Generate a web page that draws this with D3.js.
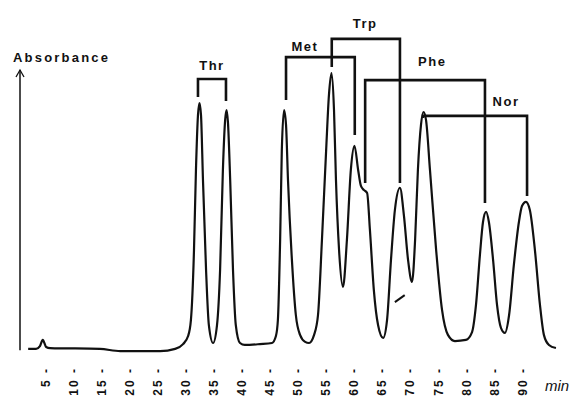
<!DOCTYPE html>
<html>
<head>
<meta charset="utf-8">
<script src="https://cdn.jsdelivr.net/npm/d3@7"></script>
<style>
  body { margin: 0; background: #fff; }
  svg { display: block; }
</style>
</head>
<body>
<div id="chart"></div>
<script>
// Chromatogram trace
// time in minutes, absorbance in arbitrary units (0 = baseline)
var times = [2.0, 3.4, 4.1, 4.6, 5.2, 5.9, 14.8, 18.4, 25.5, 28.2,
  29.6, 30.5, 31.0, 31.55, 31.9, 32.26, 32.53, 32.8, 33.15, 33.7,
  34.2, 34.95, 35.65, 36.2, 36.7, 37.1, 37.35, 37.6, 38.0, 38.5,
  39.0, 39.75, 40.6, 43.3, 45.45, 46.15, 46.5, 46.9, 47.2, 47.6,
  47.95, 48.3, 49.0, 49.7, 50.45, 51.35, 52.05, 52.95, 53.65, 54.35,
  55.1, 55.6, 56.05, 56.5, 56.85, 57.4, 58.1, 58.8, 59.5, 60.15,
  60.8, 61.3, 61.85, 62.4, 62.9, 63.6, 64.35, 65.25, 65.95, 66.65,
  67.35, 68.25, 68.95, 69.7, 70.4, 70.95, 71.45, 72.0, 72.45, 72.9,
  73.6, 74.7, 75.75, 76.8, 78.05, 80.0, 81.1, 81.8, 82.5, 83.05,
  83.6, 84.1, 84.85, 85.55, 86.25, 86.95, 87.7, 88.55, 89.45, 90.0,
  90.7, 91.4, 92.3, 93.2, 93.9, 94.8, 96.05];

var absorbance = [0.4, 0.4, 1.4, 3.6, 1.1, 0.7, 0.4, -0.4, -0.4, 0.4,
  2.1, 5.0, 10.7, 35.7, 64.3, 83.9, 88.2, 83.9, 60.7, 28.6,
  8.9, 2.5, 8.9, 28.6, 64.3, 82.1, 85.7, 81.4, 60.7, 28.6,
  8.9, 2.5, 1.8, 2.1, 2.5, 5.0, 10.7, 39.3, 71.4, 85.7,
  80.4, 60.7, 32.1, 12.5, 5.4, 2.9, 2.5, 5.4, 12.5, 39.3,
  71.4, 91.1, 98.9, 85.7, 60.7, 35.7, 22.5, 39.3, 64.3, 72.9,
  64.3, 58.6, 57.1, 56.1, 42.9, 21.4, 8.9, 4.3, 10.7, 32.1,
  50.0, 57.9, 48.2, 32.1, 24.3, 39.3, 64.3, 80.4, 85.0, 82.1,
  64.3, 35.7, 14.3, 5.4, 3.2, 3.6, 6.4, 16.1, 33.9, 45.7,
  49.3, 45.7, 32.1, 16.1, 7.9, 6.1, 12.5, 30.4, 45.7, 51.4,
  52.9, 50.0, 35.7, 16.1, 5.4, 1.8, 0.7];

// peak pair brackets: name, the two peak times, height of the bar,
// and where each leg stops above its peak
var bracketNames = ["Thr", "Met", "Trp", "Phe", "Nor"];
var bracketStart = [32.26, 47.95, 56.1, 62.05, 72.35];
var bracketEnd = [37.25, 60.2, 68.25, 83.4, 90.9];
var bracketTop = [96.8, 104.6, 111.1, 96.4, 83.6];
var legStartEnd = [90.4, 89.3, 101.1, 59.6, 82.9];
var legEndEnd = [88.9, 76.8, 59.6, 52.5, 55.0];
// where each name sits (time, absorbance of text baseline)
var nameTime = [34.75, 51.3, 62.05, 74.0, 87.15];
var nameAbs = [100.0, 106.8, 115.0, 101.4, 87.1];

// small skim mark under the second Trp peak
var skimTimes = [67.35, 69.1];
var skimAbs = [17.1, 19.6];

var xTicks = [5, 10, 15, 20, 25, 30, 35, 40, 45, 50, 55, 60, 65, 70, 75, 80, 85, 90];

var width = 577, height = 397;

var svg = d3.select("#chart")
  .append("svg")
  .attr("width", width)
  .attr("height", height);

var x = d3.scaleLinear().domain([5, 90]).range([45, 522]);
var y = d3.scaleLinear().domain([0, 100]).range([350, 70]);

var ink = "#111";

// y axis: plain arrow
var axisX = 20;
svg.append("line")
  .attr("x1", axisX).attr("x2", axisX)
  .attr("y1", y(-0.1)).attr("y2", y(100))
  .attr("stroke", ink).attr("stroke-width", 1.5);
svg.append("path")
  .attr("d", `M${axisX - 4},${y(100) + 7} L${axisX},${y(100)} L${axisX + 4},${y(100) + 7}`)
  .attr("fill", "none").attr("stroke", ink).attr("stroke-width", 1.3);

svg.append("text")
  .attr("x", 13).attr("y", 62)
  .attr("font-family", "Liberation Sans, Arial, sans-serif")
  .attr("font-size", 13).attr("font-weight", "bold")
  .attr("letter-spacing", 2.2)
  .attr("fill", ink)
  .text("Absorbance");

// trace
var pts = times.map((t, i) => [t, absorbance[i]]);
var line = d3.line()
  .x(d => x(d[0]))
  .y(d => y(d[1]))
  .curve(d3.curveMonotoneX);

svg.append("path")
  .datum(pts)
  .attr("d", line)
  .attr("fill", "none")
  .attr("stroke", ink)
  .attr("stroke-width", 2.2)
  .attr("stroke-linejoin", "round");

svg.append("line")
  .attr("x1", x(skimTimes[0])).attr("y1", y(skimAbs[0]))
  .attr("x2", x(skimTimes[1])).attr("y2", y(skimAbs[1]))
  .attr("stroke", ink).attr("stroke-width", 2);

// brackets
bracketNames.forEach((name, i) => {
  var x0 = x(bracketStart[i]), x1 = x(bracketEnd[i]), yt = y(bracketTop[i]);
  svg.append("path")
    .attr("d", `M${x0},${y(legStartEnd[i])} L${x0},${yt} L${x1},${yt} L${x1},${y(legEndEnd[i])}`)
    .attr("fill", "none")
    .attr("stroke", ink)
    .attr("stroke-width", 2.6)
    .attr("stroke-linejoin", "miter");

  svg.append("text")
    .attr("x", x(nameTime[i]))
    .attr("y", y(nameAbs[i]))
    .attr("text-anchor", "middle")
    .attr("font-family", "Liberation Sans, Arial, sans-serif")
    .attr("font-size", 13)
    .attr("font-weight", "bold")
    .attr("letter-spacing", 1.5)
    .attr("fill", ink)
    .text(name);
});

// x axis: rotated labels only, the dash is the tick
var xAxis = svg.append("g")
  .attr("transform", "translate(0,367)")
  .call(d3.axisBottom(x).tickValues(xTicks).tickSize(0).tickFormat(d => d + " -"));
xAxis.select(".domain").remove();
xAxis.selectAll("text")
  .attr("transform", "rotate(-90)")
  .attr("text-anchor", "end")
  .attr("x", 0)
  .attr("y", 0)
  .attr("dy", "0.35em")
  .attr("font-family", "Liberation Sans, Arial, sans-serif")
  .attr("font-size", 12)
  .attr("font-weight", "bold")
  .attr("letter-spacing", 2)
  .attr("fill", ink);

svg.append("text")
  .attr("x", 545).attr("y", 391)
  .attr("font-family", "Liberation Sans, Arial, sans-serif")
  .attr("font-size", 15)
  .attr("font-style", "italic")
  .attr("fill", ink)
  .text("min");
</script>
</body>
</html>
